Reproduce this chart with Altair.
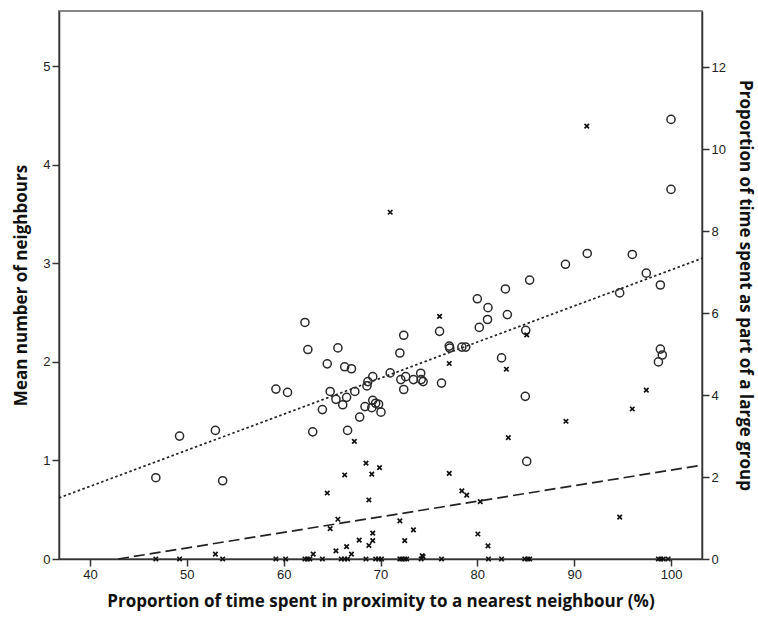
import altair as alt
import pandas as pd

# Mean number of neighbours (left axis, circles)
circle_x = [46.8, 49.25, 52.95, 53.7, 59.2, 60.4, 62.2, 62.5, 65.6, 64.5, 66.3, 67.0,
            64.8, 65.4, 66.5, 66.1, 67.35, 64.0, 67.85, 68.4, 63.0, 66.6, 68.6, 68.7,
            69.2, 71.0, 72.4, 76.1, 72.0, 72.1, 72.6, 73.4, 74.15, 74.2, 74.4, 72.4,
            76.3, 77.1, 77.15, 78.4, 78.8, 69.2, 69.5, 69.8, 69.1, 70.05, 80.0, 81.1,
            81.05, 80.2, 82.9, 83.1, 85.4, 89.1, 85.0, 82.5, 84.95, 85.1, 100.0, 100.0,
            91.35, 96.0, 97.45, 98.9, 94.7, 98.9, 99.1, 98.7]
circle_y = [0.825, 1.247, 1.305, 0.794, 1.724, 1.69, 2.40, 2.125, 2.142, 1.98, 1.95, 1.93,
            1.70, 1.62, 1.64, 1.565, 1.70, 1.516, 1.44, 1.546, 1.29, 1.305, 1.756, 1.80,
            1.85, 1.888, 2.27, 2.31, 2.09, 1.82, 1.85, 1.82, 1.885, 1.82, 1.80, 1.72,
            1.785, 2.16, 2.14, 2.15, 2.15, 1.61, 1.58, 1.57, 1.535, 1.49, 2.64, 2.55,
            2.43, 2.35, 2.74, 2.48, 2.83, 2.99, 2.32, 2.04, 1.65, 0.99, 4.46, 3.75,
            3.10, 3.09, 2.90, 2.78, 2.70, 2.13, 2.07, 2.00]

# Proportion of time in a large group (right axis, crosses)
cross_x = [71.0, 91.3, 76.1, 77.1, 83.0, 85.1, 89.15, 83.2, 97.45, 96.0, 94.7,
           67.3, 68.5, 69.9, 66.3, 69.1, 64.5, 68.8, 65.6, 64.8, 72.0, 73.4, 69.2,
           72.5, 67.8, 69.2, 68.8, 66.5, 65.4, 67.0, 63.05, 52.95, 74.3, 74.4,
           77.1, 78.4, 78.9, 80.3, 80.05, 81.1,
           46.8, 49.25, 53.7, 59.2, 60.2, 62.2, 62.45, 62.7, 64.0, 65.95, 66.3, 66.6,
           68.5, 69.5, 69.8, 70.1, 72.0, 72.2, 72.5, 72.7, 74.2, 76.3, 81.15, 82.5,
           84.9, 85.2, 85.4, 98.7, 98.95, 99.2, 99.7]
cross_y = [8.46, 10.56, 5.92, 4.77, 4.63, 5.47, 3.36, 2.96, 4.12, 3.66, 1.02,
           2.87, 2.34, 2.23, 2.05, 2.07, 1.61, 1.44, 0.97, 0.74, 0.93, 0.71, 0.63,
           0.45, 0.46, 0.45, 0.33, 0.30, 0.20, 0.12, 0.12, 0.12, 0.08, 0.06,
           2.09, 1.66, 1.56, 1.40, 0.61, 0.32,
           0, 0, 0, 0, 0, 0, 0, 0, 0, 0, 0, 0,
           0, 0, 0, 0, 0, 0, 0, 0, 0, 0, 0, 0,
           0, 0, 0, 0, 0, 0, 0]

# Fit lines
fit_neigh_x = [36.8, 103.2]
fit_neigh_y = [0.62, 3.05]
fit_group_x = [42.9, 103.2]
fit_group_y = [0.0, 2.29]

X_DOMAIN = [36.8, 103.2]
LEFT_DOMAIN = [0, 5.56]
RIGHT_DOMAIN = [0, 13.37]

df_c = pd.DataFrame({"x": circle_x, "y": circle_y})
df_x = pd.DataFrame({"x": cross_x, "y": cross_y})
df_fn = pd.DataFrame({"x": fit_neigh_x, "y": fit_neigh_y})
df_fg = pd.DataFrame({"x": fit_group_x, "y": fit_group_y})

TITLE_FONT = "Open Sans"
LABEL_FONT = "Liberation Sans"

x_enc = alt.X("x:Q", scale=alt.Scale(domain=X_DOMAIN, nice=False, zero=False),
              axis=alt.Axis(values=[40, 50, 60, 70, 80, 90, 100],
                            title="Proportion of time spent in proximity to a nearest neighbour (%)",
                            titlePadding=12))

y_left = alt.Y("y:Q", scale=alt.Scale(domain=LEFT_DOMAIN, nice=False, zero=False),
               axis=alt.Axis(values=[0, 1, 2, 3, 4, 5], orient="left",
                             title="Mean number of neighbours", titlePadding=12))
y_right = alt.Y("y:Q", scale=alt.Scale(domain=RIGHT_DOMAIN, nice=False, zero=False),
                axis=alt.Axis(values=[0, 2, 4, 6, 8, 10, 12], orient="right",
                              title="Proportion of time spent as part of a large group",
                              titlePadding=10))

circles = alt.Chart(df_c).mark_point(
    shape="circle", filled=False, size=66, stroke="#2a2a2a", strokeWidth=1.5, opacity=1
).encode(x=x_enc, y=y_left)
line_n = alt.Chart(df_fn).mark_line(
    color="#222222", strokeWidth=1.7, strokeDash=[2.5, 2.5]
).encode(x=x_enc, y=y_left)

crosses = alt.Chart(df_x).mark_point(
    shape="M-1,-1L1,1M-1,1L1,-1", filled=False, size=20, stroke="#111111",
    strokeWidth=1.7, opacity=1
).encode(x=x_enc, y=y_right)
line_g = alt.Chart(df_fg).mark_line(
    color="#222222", strokeWidth=1.7, strokeDash=[11, 5]
).encode(x=x_enc, y=y_right)

left = alt.layer(line_n, circles)
right = alt.layer(line_g, crosses)

chart = alt.layer(left, right).resolve_scale(y="independent").properties(
    width=643, height=548,
    autosize=alt.AutoSizeParams(type="none"),
    padding={"left": 59, "top": 11, "right": 56, "bottom": 58},
    background="white",
).configure_view(
    stroke="#888888", strokeWidth=2
).configure_axis(
    grid=False,
    domainColor="#333333", domainWidth=1.5,
    tickColor="#333333", tickWidth=1.5, tickSize=7,
    labelFont=LABEL_FONT, labelFontSize=13, labelColor="#222222", labelPadding=2,
    titleFont=TITLE_FONT, titleFontSize=17, titleFontWeight="bold", titleColor="#111111",
)

chart.save("out.html", embed_options={"renderer": "svg", "actions": False})
